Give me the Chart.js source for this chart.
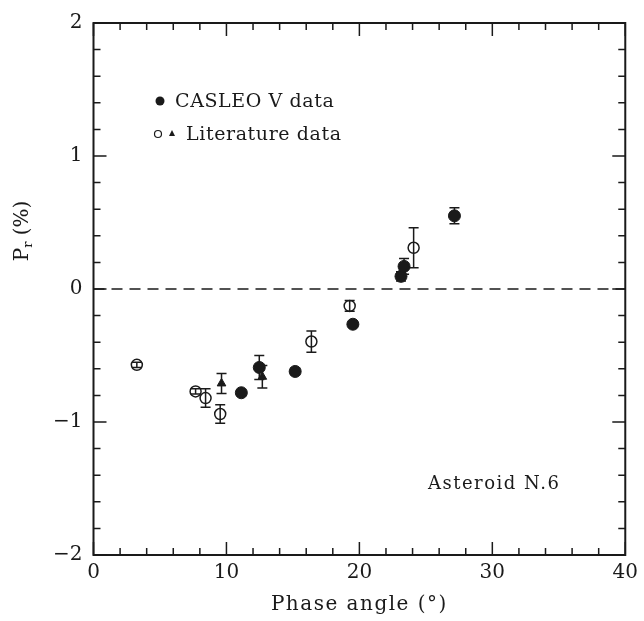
<!DOCTYPE html>
<html>
<head>
<meta charset="utf-8">
<script src="https://cdn.jsdelivr.net/npm/chart.js@4"></script>
<style>
  html, body { margin:0; padding:0; background:#fff; }
  #wrap { width:644px; height:621px; position:relative; }
</style>
</head>
<body>
<div id="wrap"><canvas id="c" width="644" height="621"></canvas></div>
<script>
// ── Data ──────────────────────────────────────────────────────
const casleoX   = [11.12, 12.47, 15.17, 19.51, 23.13, 23.36, 27.15];
const casleoY   = [-0.78, -0.59, -0.62, -0.265, 0.095, 0.17, 0.55];
const casleoErr = [0.02, 0.09, 0.025, 0.015, 0.035, 0.06, 0.06];

const litCircX   = [3.26, 7.68, 8.43, 9.53, 16.39, 19.27, 24.08];
const litCircY   = [-0.57, -0.77, -0.82, -0.94, -0.395, -0.127, 0.31];
const litCircErr = [0.02, 0.02, 0.07, 0.07, 0.08, 0.04, 0.15];

const litTriX   = [9.63, 12.7];
const litTriY   = [-0.71, -0.66];
const litTriErr = [0.075, 0.085];

const zeroX = [0, 40];
const zeroY = [0, 0];

const xMajor = [0, 10, 20, 30, 40];
const yMajor = [-2, -1, 0, 1, 2];

const INK = '#1a1a1a';
const FONT = "'DejaVu Serif', serif";

const pts = (xs, ys) => xs.map((x, i) => ({ x, y: ys[i] }));

// ── Overlay: error bars, frame, ticks, labels ─────────────────
const overlay = {
  id: 'overlay',
  beforeDatasetsDraw(chart) {
    const { ctx, scales: { x, y } } = chart;
    const sets = [[litCircX, litCircY, litCircErr], [litTriX, litTriY, litTriErr], [casleoX, casleoY, casleoErr]];
    ctx.save();
    ctx.strokeStyle = INK; ctx.lineWidth = 1.5;
    sets.forEach(([xs, ys, es]) => xs.forEach((xv, i) => {
      const px = x.getPixelForValue(xv);
      const y1 = y.getPixelForValue(ys[i] + es[i]), y2 = y.getPixelForValue(ys[i] - es[i]);
      ctx.beginPath();
      ctx.moveTo(px, y1); ctx.lineTo(px, y2);
      ctx.moveTo(px - 5, y1); ctx.lineTo(px + 5, y1);
      ctx.moveTo(px - 5, y2); ctx.lineTo(px + 5, y2);
      ctx.stroke();
    }));
    ctx.restore();
  },
  afterDraw(chart) {
    const { ctx, chartArea: a, scales: { x, y } } = chart;
    ctx.save();
    ctx.strokeStyle = INK; ctx.fillStyle = INK;

    // frame
    ctx.lineWidth = 2;
    ctx.strokeRect(a.left, a.top, a.right - a.left, a.bottom - a.top);

    // ticks (inward, all four sides)
    ctx.lineWidth = 1.5;
    ctx.beginPath();
    x.ticks.forEach(t => {
      const px = x.getPixelForValue(t.value);
      const len = xMajor.includes(Math.round(t.value * 100) / 100) ? 13 : 7;
      ctx.moveTo(px, a.bottom); ctx.lineTo(px, a.bottom - len);
      ctx.moveTo(px, a.top); ctx.lineTo(px, a.top + len);
    });
    y.ticks.forEach(t => {
      const py = y.getPixelForValue(t.value);
      const len = yMajor.includes(Math.round(t.value * 100) / 100) ? 13 : 7;
      ctx.moveTo(a.left, py); ctx.lineTo(a.left + len, py);
      ctx.moveTo(a.right, py); ctx.lineTo(a.right - len, py);
    });
    ctx.stroke();

    // x title
    ctx.font = '20px ' + FONT;
    ctx.letterSpacing = '1.5px';
    ctx.textAlign = 'center'; ctx.textBaseline = 'middle';
    ctx.fillText('Phase angle (°)', (a.left + a.right) / 2, 605);

    // y title with subscript
    ctx.save();
    ctx.letterSpacing = '0px';
    ctx.translate(23, 231);
    ctx.rotate(-Math.PI / 2);
    ctx.textAlign = 'left';
    const wP = ctx.measureText('P').width;
    ctx.font = '13px ' + FONT;
    const wr = ctx.measureText('r').width;
    ctx.font = '20px ' + FONT;
    const wRest = ctx.measureText(' (%)').width;
    let sx = -(wP + wr + wRest) / 2;
    ctx.fillText('P', sx, 0); sx += wP;
    ctx.font = '13px ' + FONT; ctx.fillText('r', sx, 6); sx += wr;
    ctx.font = '20px ' + FONT; ctx.fillText(' (%)', sx, 0);
    ctx.restore();

    // legend
    ctx.textAlign = 'left';
    ctx.font = '19px ' + FONT;
    ctx.letterSpacing = '0.6px';
    ctx.beginPath(); ctx.arc(160, 101, 4.5, 0, Math.PI * 2); ctx.fill();
    ctx.fillText('CASLEO V data', 175, 102);
    ctx.lineWidth = 1.2;
    ctx.beginPath(); ctx.arc(158, 134, 3.5, 0, Math.PI * 2); ctx.stroke();
    ctx.beginPath(); ctx.moveTo(172, 130); ctx.lineTo(175, 136); ctx.lineTo(169, 136); ctx.closePath(); ctx.fill();
    ctx.fillText('Literature data', 186, 135);

    // annotation
    ctx.font = '18px ' + FONT;
    ctx.letterSpacing = '1.5px';
    ctx.fillText('Asteroid N.6', 428, 484);
    ctx.restore();
  }
};

new Chart(document.getElementById('c'), {
  type: 'scatter',
  data: {
    datasets: [
      { type: 'line', data: pts(zeroX, zeroY), borderColor: INK, borderWidth: 1.5, borderDash: [11, 7],
        pointRadius: 0, fill: false },
      { data: pts(litCircX, litCircY), pointStyle: 'circle', pointRadius: 5.5, borderWidth: 1.5,
        borderColor: INK, backgroundColor: 'rgba(0,0,0,0)' },
      { data: pts(litTriX, litTriY), pointStyle: 'triangle', pointRadius: 5, borderWidth: 1,
        borderColor: INK, backgroundColor: INK },
      { data: pts(casleoX, casleoY), pointStyle: 'circle', pointRadius: 6, borderWidth: 1,
        borderColor: INK, backgroundColor: INK }
    ]
  },
  options: {
    responsive: false,
    animation: false,
    layout: { padding: { top: 21, right: 17, left: 0, bottom: 0 } },
    plugins: { legend: { display: false }, tooltip: { enabled: false } },
    scales: {
      x: {
        type: 'linear', min: 0, max: 40,
        grid: { display: false, drawTicks: false }, border: { display: false },
        afterFit: s => { s.height = 66; },
        ticks: { stepSize: 2, autoSkip: false, maxRotation: 0, padding: 6, color: INK,
          font: { family: FONT, size: 20 },
          callback: v => xMajor.includes(Math.round(v * 100) / 100) ? String(v) : '' }
      },
      y: {
        type: 'linear', min: -2, max: 2,
        grid: { display: false, drawTicks: false }, border: { display: false },
        afterFit: s => { s.width = 93.5; },
        ticks: { stepSize: 0.2, autoSkip: false, padding: 11, color: INK,
          font: { family: FONT, size: 20 },
          callback: v => {
            const r = Math.round(v * 100) / 100;
            return yMajor.includes(r) ? (r < 0 ? '\u2212' + Math.abs(r) : String(r)) : '';
          } }
      }
    }
  },
  plugins: [overlay]
});
</script>
</body>
</html>
